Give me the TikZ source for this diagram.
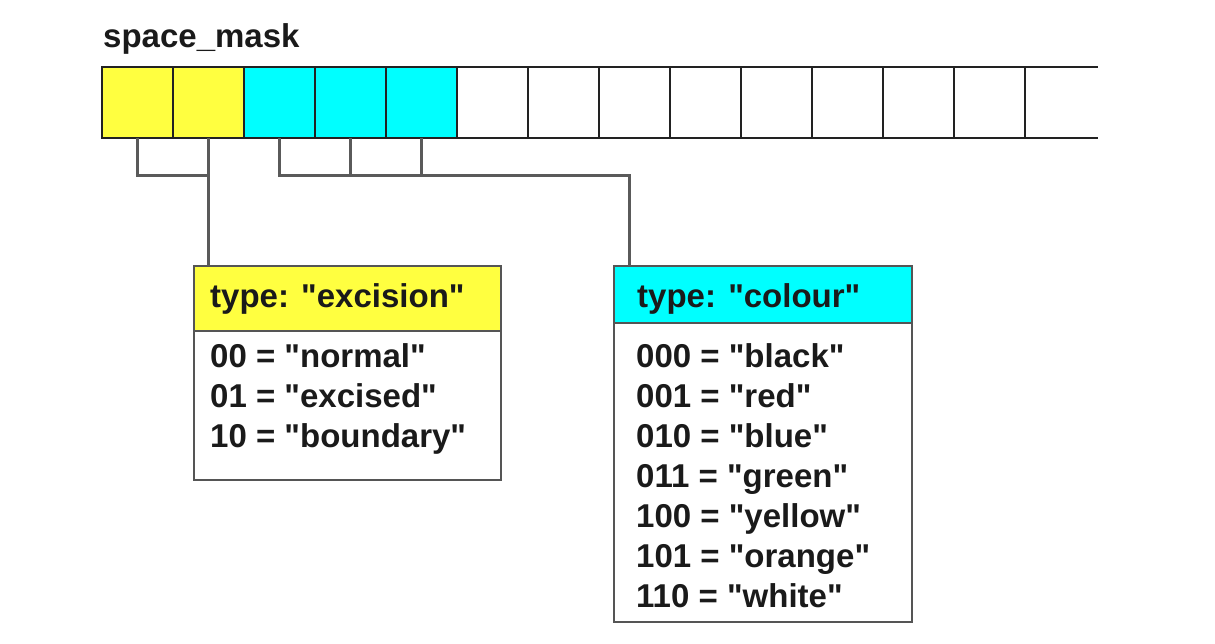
\documentclass[tikz,border=0pt]{standalone}
\usepackage{fontspec}
\newfontfamily\libsans{Liberation Sans}
\definecolor{yel}{HTML}{FFFF40}
\definecolor{cya}{HTML}{00FFFF}
\definecolor{txtcol}{HTML}{1A1A1A}
\definecolor{cellline}{HTML}{222222}
\definecolor{connline}{HTML}{5A5A5A}
\definecolor{boxline}{HTML}{555555}
\begin{document}
\begin{tikzpicture}[x=1pt,y=-1pt,
  cell/.style={draw=cellline, line width=2pt, minimum width=71pt, minimum height=71pt, inner sep=0pt, outer sep=0pt, anchor=north west},
  conn/.style={draw=connline, line width=3pt},
  txt/.style={font=\libsans\fontsize{33}{40}\selectfont\bfseries, text=txtcol, inner sep=0pt, anchor=base west},
  boxpart/.style={draw=boxline, line width=2.5pt, anchor=north west, inner sep=0pt, outer sep=0pt},
]
\useasboundingbox (0,0) rectangle (1215,643);

% title
\node[txt] (title) at (103,47) {space\_mask};

% cells
\node[cell, fill=yel] (c0) at (102,67) {};
\node[cell, fill=yel] (c1) at (173,67) {};
\node[cell, fill=cya] (c2) at (244,67) {};
\node[cell, fill=cya] (c3) at (315,67) {};
\node[cell, fill=cya] (c4) at (386,67) {};
\foreach \i in {5,...,12} {
  \node[cell, fill=white] (c\i) at ({102+71*\i},67) {};
}
\coordinate (e1) at (1098,67);
\coordinate (e2) at (1098,138);
\draw[draw=cellline, line width=2pt] (c12.north east) -- (e1);
\draw[draw=cellline, line width=2pt] (c12.south east) -- (e2);

% boxes
\node[boxpart, fill=yel, minimum width=307pt, minimum height=65pt] (exh) at (194,266) {};
\node[boxpart, fill=white, minimum width=307pt, minimum height=149pt] (exb) at (194,331) {};
\node[boxpart, fill=cya, minimum width=298pt, minimum height=57pt] (chd) at (614,266) {};
\node[boxpart, fill=white, minimum width=298pt, minimum height=299pt] (cbd) at (614,323) {};

% connectors
\coordinate (lvl) at (0,175);
\coordinate (cj) at (629,175);
\draw[conn] (c0.south) |- (c1.south |- lvl);
\draw[conn] (c1.south) -- (c1.south |- exh.north);
\draw[conn] (c2.south) |- (cj) -- (cj |- chd.north);
\draw[conn] (c3.south) -- (c3.south |- lvl);
\draw[conn] (c4.south) -- (c4.south |- lvl);

% header texts
\node[txt] (ext) at (210,307) {type: "excision"};
\node[txt] (cot) at (637,307) {type: "colour"};

% excision body
\node[txt] (ex0) at (210,367) {00 = "normal"};
\node[txt] (ex1) at (210,407) {01 = "excised"};
\node[txt] (ex2) at (210,447) {10 = "boundary"};

% colour body
\node[txt] (co0) at (636,367) {000 = "black"};
\node[txt] (co1) at (636,407) {001 = "red"};
\node[txt] (co2) at (636,447) {010 = "blue"};
\node[txt] (co3) at (636,487) {011 = "green"};
\node[txt] (co4) at (636,527) {100 = "yellow"};
\node[txt] (co5) at (636,567) {101 = "orange"};
\node[txt] (co6) at (636,607) {110 = "white"};
\end{tikzpicture}
\end{document}
